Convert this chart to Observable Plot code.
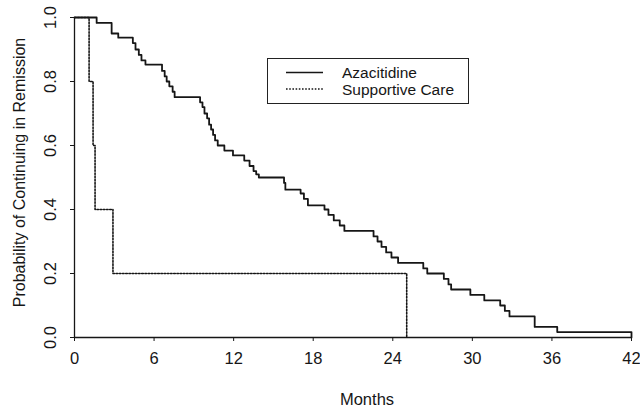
<!DOCTYPE html>
<html>
<head>
<meta charset="utf-8">
<script src="https://cdn.jsdelivr.net/npm/d3@7"></script>
<script src="https://cdn.jsdelivr.net/npm/@observablehq/plot@0.6"></script>
<style>
  html, body { margin: 0; padding: 0; background: #fff; }
  #wrap { position: relative; width: 640px; height: 411px; font-family: "Liberation Sans", Arial, sans-serif; }
  #legend { position: absolute; left: 267px; top: 58px; width: 202px; height: 46px; border: 1.5px solid #222; box-sizing: border-box; background: #fff; }
  #legend svg { position: absolute; left: 0; top: 0; }
</style>
</head>
<body>
<div id="wrap"></div>
<script>
// Kaplan–Meier curves
const azaTime = [0, 1.67, 2.8, 3.3, 4.4, 4.6, 4.85, 5.05, 5.35, 6.6, 6.8, 6.95, 7.15, 7.4, 7.55,
  9.47, 9.65, 9.8, 10.0, 10.15, 10.3, 10.45, 10.6, 10.8, 11.3, 11.95, 12.8, 13.2, 13.5, 13.7, 13.9,
  15.8, 15.9, 17.05, 17.3, 17.6, 18.85, 19.15, 19.55, 20.0, 20.35, 22.55, 22.85, 23.15, 23.5, 23.9, 24.4,
  26.3, 26.6, 27.85, 28.2, 28.4, 29.85, 30.9, 32.1, 32.45, 32.8, 34.7, 36.4, 42.0];
const azaSurv = [1.0, 0.983, 0.95, 0.937, 0.92, 0.90, 0.883, 0.866, 0.853, 0.833, 0.816, 0.80, 0.785, 0.768, 0.751,
  0.735, 0.72, 0.70, 0.685, 0.665, 0.65, 0.633, 0.616, 0.60, 0.584, 0.569, 0.553, 0.536, 0.52, 0.51, 0.50,
  0.483, 0.462, 0.45, 0.433, 0.413, 0.40, 0.383, 0.366, 0.35, 0.333, 0.316, 0.30, 0.283, 0.266, 0.25, 0.233,
  0.216, 0.20, 0.183, 0.166, 0.15, 0.133, 0.116, 0.10, 0.083, 0.066, 0.033, 0.017, 0.0];
const scTime = [0, 1.1, 1.4, 1.55, 2.9, 25.05];
const scSurv = [1.0, 0.8, 0.6, 0.4, 0.2, 0.0];

const xTicks = [0, 6, 12, 18, 24, 30, 36, 42];
const yTicks = [0, 0.2, 0.4, 0.6, 0.8, 1.0];
const seriesNames = ["Azacitidine", "Supportive Care"];
const xLabel = "Months";
const yLabel = "Probability of Continuing in Remission";

const aza = azaTime.map((t, i) => ({t, s: azaSurv[i]}));
const sc = scTime.map((t, i) => ({t, s: scSurv[i]}));

const ink = "#161616";
const chart = Plot.plot({
  width: 640,
  height: 411,
  marginLeft: 74,
  marginRight: 9,
  marginTop: 17,
  marginBottom: 74,
  style: {fontFamily: "'Liberation Sans', Arial, sans-serif", color: ink, background: "#fff"},
  x: {domain: [0, 42]},
  y: {domain: [0, 1]},
  marks: [
    Plot.ruleY([0], {x1: 0, x2: 42, stroke: ink, strokeWidth: 1.3}),
    Plot.ruleX([0], {y1: 0, y2: 1, stroke: ink, strokeWidth: 1.3}),
    Plot.axisX({ticks: xTicks, tickSize: 4, tickPadding: 11, fontSize: 16.5, label: null, stroke: ink}),
    Plot.axisY({ticks: yTicks, tickSize: 4, tickPadding: 15, tickRotate: -90, fontSize: 16.5, label: null, stroke: ink,
      tickFormat: d => d3.format(".1f")(d)}),
    Plot.line(sc, {x: "t", y: "s", curve: "step-after", stroke: ink, strokeWidth: 1.6, strokeDasharray: "1.6,1.6"}),
    Plot.line(aza, {x: "t", y: "s", curve: "step-after", stroke: ink, strokeWidth: 1.8}),
    Plot.text([xLabel], {frameAnchor: "bottom", dy: 67, dx: 14, fontSize: 16.5, fill: ink}),
    Plot.text([yLabel], {frameAnchor: "left", textAnchor: "middle", rotate: -90, dx: -55, dy: -5, fontSize: 16, fill: ink})
  ]
});
const wrap = document.getElementById("wrap");
wrap.appendChild(chart);

// legend box
const leg = document.createElement("div");
leg.id = "legend";
const ns = "http://www.w3.org/2000/svg";
const lsvg = document.createElementNS(ns, "svg");
lsvg.setAttribute("width", 202); lsvg.setAttribute("height", 46);
const styles = [{dash: null}, {dash: "1.6,1.6"}];
seriesNames.forEach((name, i) => {
  const y = 13.5 + i * 16.5;
  const ln = document.createElementNS(ns, "line");
  ln.setAttribute("x1", 18); ln.setAttribute("x2", 55);
  ln.setAttribute("y1", y); ln.setAttribute("y2", y);
  ln.setAttribute("stroke", ink); ln.setAttribute("stroke-width", 1.4);
  if (styles[i].dash) ln.setAttribute("stroke-dasharray", styles[i].dash);
  lsvg.appendChild(ln);
  const tx = document.createElementNS(ns, "text");
  tx.setAttribute("x", 74); tx.setAttribute("y", y);
  tx.setAttribute("dominant-baseline", "central");
  tx.setAttribute("font-size", 15.5);
  tx.setAttribute("fill", ink);
  tx.textContent = name;
  lsvg.appendChild(tx);
});
leg.appendChild(lsvg);
wrap.appendChild(leg);
</script>
</body>
</html>
